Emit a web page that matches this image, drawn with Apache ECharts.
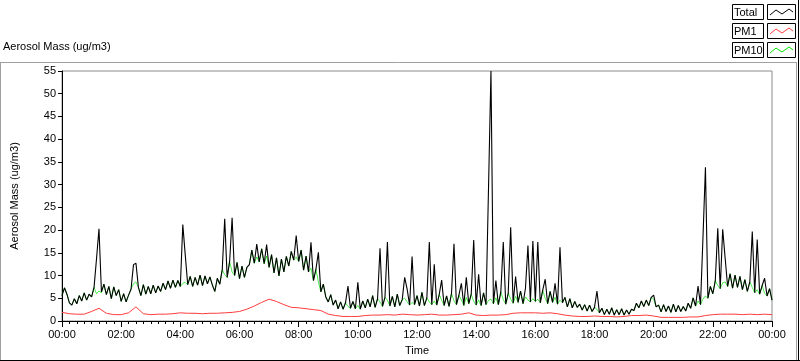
<!DOCTYPE html>
<html>
<head>
<meta charset="utf-8">
<script src="https://cdn.jsdelivr.net/npm/echarts@6/dist/echarts.min.js"></script>
<style>
html,body{margin:0;padding:0;background:#fff;}
#chart{width:800px;height:361px;}
</style>
</head>
<body>
<div id="chart"></div>
<script>
// Time grid (minutes since midnight)
var FAST_STEP = 5;    // minutes between Total / PM10 samples
var SLOW_STEP = 15;   // minutes between PM1 samples

// Total aerosol mass (ug/m3), 5-minute samples, 00:00 .. 24:00 (one row per hour)
var totalVals = [
  5.6, 7.3, 5.9, 4.0, 3.5, 4.9, 3.8, 5.6, 4.4, 6.2, 4.6, 5.9,
  5.3, 7.4, 13.7, 20.3, 6.4, 8.1, 5.8, 7.6, 4.9, 7.5, 5.6, 6.9,
  4.3, 6.0, 4.2, 5.7, 7.0, 12.4, 12.7, 7.4, 5.6, 8.0, 5.9, 7.6,
  6.0, 7.9, 6.2, 7.7, 6.5, 8.3, 6.9, 8.8, 7.2, 9.0, 7.4, 8.9,
  7.6, 21.2, 14.5, 8.0, 9.8, 7.6, 9.6, 7.9, 10.1, 7.8, 9.9, 8.2,
  9.7, 7.9, 6.5, 9.4, 8.1, 11.3, 22.5, 9.6, 13.1, 22.7, 10.0, 12.9,
  9.3, 12.1, 9.6, 11.8, 12.4, 15.6, 12.7, 16.9, 13.0, 15.9, 12.6, 16.8,
  11.8, 14.6, 10.6, 13.9, 9.9, 13.6, 10.8, 14.2, 12.1, 15.3, 13.4, 18.8,
  13.1, 15.6, 11.2, 14.3, 10.8, 17.3, 8.9, 11.4, 15.1, 6.4, 8.1, 5.3,
  4.2, 5.8, 3.5, 4.6, 2.7, 4.2, 2.6, 4.0, 7.7, 2.8, 4.3, 2.7,
  8.5, 2.6, 4.4, 2.9, 4.8, 3.1, 5.6, 3.0, 4.9, 16.0, 3.2, 5.2,
  17.4, 3.3, 5.4, 3.1, 5.9, 3.4, 4.7, 9.6, 7.0, 3.5, 14.2, 3.6,
  5.6, 3.3, 6.3, 3.4, 5.1, 17.4, 3.6, 12.5, 3.5, 5.8, 9.0, 3.4,
  5.5, 3.2, 6.1, 17.0, 3.6, 5.7, 8.3, 3.4, 9.6, 3.8, 5.9, 17.8,
  3.5, 10.3, 3.4, 6.2, 3.6, 29.0, 55.0, 3.8, 8.9, 3.6, 6.4, 17.4,
  3.7, 6.1, 20.6, 3.9, 9.8, 4.1, 6.6, 3.8, 7.2, 16.6, 4.2, 17.6,
  4.3, 17.4, 4.0, 6.8, 9.2, 3.8, 6.5, 4.1, 8.3, 3.7, 16.2, 4.0,
  5.2, 3.1, 4.9, 2.9, 4.3, 3.0, 3.7, 2.4, 3.6, 2.2, 3.5, 2.1,
  3.0, 6.6, 1.8, 2.8, 1.4, 2.6, 1.5, 2.9, 1.3, 2.5, 1.4, 2.7,
  1.3, 2.4, 1.5, 2.6, 2.3, 3.9, 2.9, 4.4, 3.2, 4.6, 3.4, 5.2,
  5.7, 3.1, 3.5, 2.0, 3.6, 2.1, 3.3, 1.9, 3.7, 2.0, 3.4, 2.1,
  3.2, 2.2, 3.9, 2.8, 5.1, 3.3, 7.7, 3.6, 18.4, 33.8, 5.0, 7.6,
  6.0, 8.9, 20.4, 7.1, 20.2, 13.8, 7.6, 10.4, 7.2, 10.1, 7.4, 9.8,
  6.9, 9.1, 6.5, 8.6, 19.7, 6.2, 17.9, 5.9, 7.8, 9.4, 5.5, 7.1,
  4.6
];

// PM10 (ug/m3), 5-minute samples (one row per hour)
var pm10Vals = [
  5.6, 7.3, 5.9, 4.0, 3.5, 4.9, 3.8, 5.6, 4.4, 6.2, 4.6, 5.9,
  5.3, 7.4, 6.0, 6.6, 6.2, 8.1, 5.8, 7.6, 4.9, 7.5, 5.6, 6.9,
  4.3, 6.0, 4.2, 5.7, 7.0, 8.2, 8.6, 7.4, 5.6, 8.0, 5.9, 7.6,
  6.0, 7.9, 6.2, 7.7, 6.5, 8.3, 6.9, 8.8, 7.2, 9.0, 7.4, 8.9,
  7.6, 8.3, 8.5, 8.0, 9.8, 7.6, 9.6, 7.9, 10.1, 7.8, 9.9, 8.2,
  9.7, 7.9, 6.5, 9.4, 8.1, 11.3, 10.2, 9.6, 13.1, 10.8, 10.0, 12.9,
  9.3, 12.1, 9.6, 11.8, 12.4, 15.6, 12.7, 14.1, 13.0, 15.9, 12.6, 14.3,
  11.8, 14.6, 10.6, 13.9, 9.9, 13.6, 10.8, 14.2, 12.1, 15.3, 13.4, 14.1,
  13.1, 15.6, 11.2, 14.3, 10.8, 11.6, 8.9, 11.4, 8.6, 6.4, 8.1, 5.3,
  4.2, 5.8, 3.5, 4.6, 2.7, 4.2, 2.6, 4.0, 3.2, 2.8, 4.3, 2.7,
  3.4, 2.6, 4.4, 2.9, 4.8, 3.1, 5.6, 3.0, 4.9, 4.2, 3.2, 5.2,
  4.6, 3.3, 5.4, 3.1, 5.9, 3.4, 4.7, 5.0, 4.2, 3.5, 4.1, 3.6,
  5.6, 3.3, 6.3, 3.4, 5.1, 4.2, 3.6, 4.4, 3.5, 5.8, 4.6, 3.4,
  5.5, 3.2, 6.1, 4.4, 3.6, 5.7, 4.6, 3.4, 5.2, 3.8, 5.9, 4.3,
  3.5, 4.6, 3.4, 6.2, 3.6, 4.5, 4.8, 3.8, 5.1, 3.6, 6.4, 4.7,
  3.7, 6.1, 4.8, 3.9, 5.4, 4.1, 6.6, 3.8, 5.3, 4.6, 4.2, 4.9,
  4.3, 4.8, 4.0, 6.8, 5.0, 3.8, 6.5, 4.1, 5.2, 3.7, 4.6, 4.0,
  5.2, 3.1, 4.9, 2.9, 4.3, 3.0, 3.7, 2.4, 3.6, 2.2, 3.5, 2.1,
  3.0, 2.6, 1.8, 2.8, 1.4, 2.6, 1.5, 2.9, 1.3, 2.5, 1.4, 2.7,
  1.3, 2.4, 1.5, 2.6, 2.3, 3.9, 2.9, 4.4, 3.2, 4.6, 3.4, 5.2,
  4.8, 3.1, 3.5, 2.0, 3.6, 2.1, 3.3, 1.9, 3.7, 2.0, 3.4, 2.1,
  3.2, 2.2, 3.9, 2.8, 5.1, 3.3, 4.4, 3.6, 4.8, 5.5, 5.0, 7.6,
  6.0, 8.9, 7.8, 7.1, 8.4, 8.6, 7.6, 10.4, 7.2, 10.1, 7.4, 9.8,
  6.9, 9.1, 6.5, 8.6, 7.4, 6.2, 6.9, 5.9, 7.8, 6.1, 5.5, 7.1,
  4.6
];

// PM1 (ug/m3), 15-minute samples
var pm1Vals = [
  1.9, 1.6, 1.5, 1.5, 2.1, 2.8, 1.7, 1.4,
  1.4, 1.8, 3.1, 1.6, 1.4, 1.5, 1.5, 1.6,
  1.8, 1.7, 1.7, 1.6, 1.7, 1.7, 1.8, 1.9,
  2.1, 2.6, 3.3, 4.1, 4.8, 4.3, 3.6, 3.0,
  2.9, 2.7, 2.5, 2.3, 1.5, 1.2, 1.0, 1.0,
  1.0, 1.2, 1.3, 1.3, 1.4, 1.3, 1.5, 1.4,
  1.3, 1.4, 1.5, 1.3, 1.3, 1.4, 1.5, 1.8,
  1.3, 1.2, 1.3, 1.3, 1.4, 1.7, 1.8, 1.8,
  1.8, 1.7, 1.8, 1.6, 1.3, 1.1, 1.0, 1.0,
  1.1, 1.0, 1.0, 0.9, 1.0, 1.2, 1.2, 1.3,
  1.1, 0.8, 0.8, 0.8, 0.8, 0.9, 0.9, 1.2,
  1.4, 1.5, 1.5, 1.5, 1.4, 1.5, 1.4, 1.5,
  1.4
];

var legendNames = ['Total', 'PM1', 'PM10'];
var legendColors = ['#000000', '#ff3c3c', '#00e600'];

function toPairs(vals, step) {
  return vals.map(function (v, i) { return [i * step, v]; });
}
function pad(n) { return (n < 10 ? '0' : '') + n; }

var FONT = 'Liberation Sans, Arial, sans-serif';

var chart = echarts.init(document.getElementById('chart'), null, {renderer: 'canvas'});

// legend drawing and panel frame (decoration)
var deco = [];
legendNames.forEach(function (name, k) {
  var y0 = 4 + k * 19;
  deco.push({
    type: 'rect', shape: {x: 732.5, y: y0 + 0.5, width: 31, height: 15},
    style: {fill: '#fff', stroke: '#000', lineWidth: 1}, z: 100
  });
  deco.push({
    type: 'text', x: 734, y: y0 + 8.5,
    style: {text: name, font: '11px ' + FONT, fill: '#000', textVerticalAlign: 'middle'}, z: 101
  });
  deco.push({
    type: 'rect', shape: {x: 767.5, y: y0 + 0.5, width: 28, height: 15},
    style: {fill: '#fff', stroke: '#000', lineWidth: 1}, z: 100
  });
  deco.push({
    type: 'polyline',
    shape: {points: [[770, y0 + 11], [776, y0 + 6], [782, y0 + 10], [789, y0 + 5], [793, y0 + 8]]},
    style: {stroke: legendColors[k], lineWidth: 1, fill: null}, z: 101
  });
});
deco.push({type: 'line', shape: {x1: 0, y1: 62.5, x2: 797, y2: 62.5}, style: {stroke: '#a0a0a0', lineWidth: 1}});
deco.push({type: 'line', shape: {x1: 0.5, y1: 62, x2: 0.5, y2: 361}, style: {stroke: '#a0a0a0', lineWidth: 1}});
deco.push({type: 'line', shape: {x1: 796.5, y1: 62, x2: 796.5, y2: 361}, style: {stroke: '#a0a0a0', lineWidth: 1}});
deco.push({type: 'line', shape: {x1: 0, y1: 360.5, x2: 800, y2: 360.5}, style: {stroke: '#000', lineWidth: 1}});
deco.push({type: 'line', shape: {x1: 798.5, y1: 0, x2: 798.5, y2: 361}, style: {stroke: '#000', lineWidth: 1}});
deco.push({
  type: 'text', x: 3, y: 47,
  style: {text: 'Aerosol Mass (ug/m3)', font: '11px ' + FONT, fill: '#000', textVerticalAlign: 'middle'}
});

var option = {
  animation: false,
  backgroundColor: '#fff',
  textStyle: {fontFamily: FONT},
  grid: {left: 62, top: 71, right: 28, bottom: 39, show: true, borderColor: '#8c8c8c', borderWidth: 1, backgroundColor: '#fff'},
  graphic: deco,
  xAxis: [{
    type: 'value', min: 0, max: 1440, interval: 120,
    name: 'Time', nameLocation: 'middle', nameGap: 24,
    nameTextStyle: {fontSize: 11, color: '#000', fontFamily: FONT},
    axisLine: {show: true, onZero: false, lineStyle: {color: '#8c8c8c', width: 1}},
    axisTick: {show: true, length: 6, lineStyle: {color: '#000'}},
    minorTick: {show: true, splitNumber: 8, length: 3, lineStyle: {color: '#000'}},
    axisLabel: {
      fontSize: 11, color: '#000', margin: 8, fontFamily: FONT,
      formatter: function (v) { return pad(Math.floor(v / 60) % 24) + ':00'; }
    },
    splitLine: {show: false}, minorSplitLine: {show: false}
  }, {
    type: 'value', min: 0, max: 1440, position: 'top',
    axisLine: {show: true, lineStyle: {color: '#000', width: 1}},
    axisTick: {show: false}, axisLabel: {show: false}, splitLine: {show: false}
  }],
  yAxis: {
    type: 'value', min: 0, max: 55, interval: 5,
    name: 'Aerosol Mass (ug/m3)', nameLocation: 'middle', nameGap: 42, nameRotate: 90,
    nameTextStyle: {fontSize: 11, color: '#000', fontFamily: FONT},
    axisLine: {show: true, lineStyle: {color: '#000', width: 1}},
    axisTick: {show: true, length: 4, lineStyle: {color: '#000'}},
    axisLabel: {fontSize: 11, color: '#000', margin: 6, fontFamily: FONT},
    splitLine: {show: false}
  },
  series: [{
    name: 'PM1', type: 'line', xAxisIndex: 0, data: toPairs(pm1Vals, SLOW_STEP),
    symbol: 'none', lineStyle: {color: legendColors[1], width: 1}, z: 2
  }, {
    name: 'PM10', type: 'line', xAxisIndex: 0, data: toPairs(pm10Vals, FAST_STEP),
    symbol: 'none', lineStyle: {color: legendColors[2], width: 0.7}, z: 3
  }, {
    name: 'Total', type: 'line', xAxisIndex: 0, data: toPairs(totalVals, FAST_STEP),
    symbol: 'none', lineStyle: {color: legendColors[0], width: 1.1}, z: 4
  }]
};
chart.setOption(option);
</script>
</body>
</html>
